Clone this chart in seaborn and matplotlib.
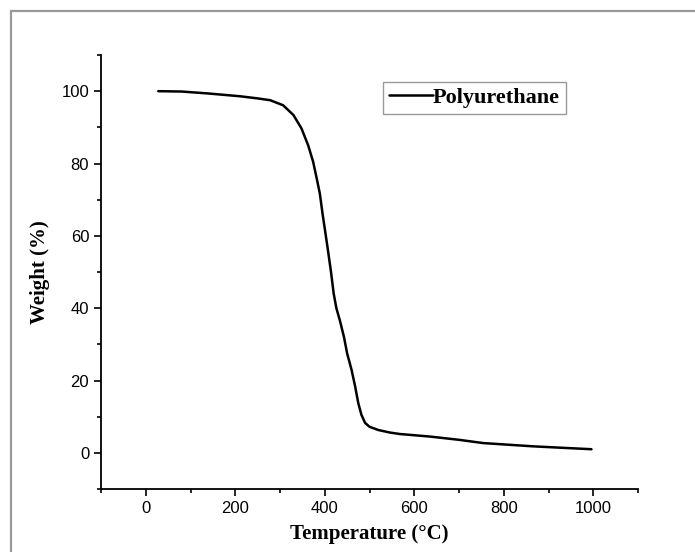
import pandas as pd
import numpy as np
import matplotlib.pyplot as plt
import seaborn as sns
from matplotlib.patches import Rectangle
from matplotlib.ticker import MultipleLocator


# 1. Data
temperature = [28, 80, 136, 210, 250, 278, 307, 330, 348, 363, 374, 382, 389, 395, 406,
               414, 420, 426, 434, 443, 450, 460, 468, 475, 482, 490, 500, 520,
               546, 568, 635, 700, 754, 865, 930, 996]
weight = [100, 99.9, 99.4, 98.6, 98.0, 97.5, 96.1, 93.4, 89.7, 85.0, 80.5, 75.9, 71.7, 66.2, 57,
          50, 44, 40, 36.5, 32, 27.5, 22.9, 18.3, 13.7, 10.5, 8.3, 7.2, 6.3,
          5.6, 5.2, 4.5, 3.6, 2.7, 1.8, 1.4, 1.0]
series_name = 'Polyurethane'

tga = pd.DataFrame({'Temperature': temperature, 'Weight': weight, 'Sample': series_name})


# 2. Plot
sns.set_theme(style="ticks")
plt.rcParams['font.family'] = ['Liberation Sans', 'DejaVu Sans']

fig = plt.figure(figsize=(6.95, 5.52), dpi=100)
ax = fig.add_axes([101/695, 1 - 489/552, 537/695, 434/552])

sns.lineplot(data=tga, x='Temperature', y='Weight', hue='Sample',
             palette=['black'], linewidth=1.8, ax=ax)

ax.set_xlim(-100, 1100)
ax.set_ylim(-10, 110)
ax.xaxis.set_major_locator(MultipleLocator(200))
ax.xaxis.set_minor_locator(MultipleLocator(100))
ax.yaxis.set_major_locator(MultipleLocator(20))
ax.yaxis.set_minor_locator(MultipleLocator(10))
ax.tick_params(which='major', direction='out', length=5, width=1.2, labelsize=12,
               color='black', labelcolor='black')
ax.tick_params(which='minor', direction='out', length=3, width=1.2, color='black')

for s in ['top', 'right']:
    ax.spines[s].set_visible(False)
for s in ['left', 'bottom']:
    ax.spines[s].set_linewidth(1.3)
    ax.spines[s].set_color('black')

label_font = dict(family='Liberation Serif', weight='bold', size=15, color='black')
ax.set_xlabel('Temperature (°C)', fontdict=label_font, labelpad=6)
ax.set_ylabel('Weight (%)', fontdict=label_font, labelpad=8)

leg = ax.legend(loc='upper left', bbox_to_anchor=(282/537, 1 - 27/434),
                prop=dict(family='Liberation Serif', weight='bold', size=16),
                frameon=True, fancybox=False, handlelength=2.0, handletextpad=0.0,
                borderpad=0.25, borderaxespad=0)
leg.get_frame().set_edgecolor('#808080')
leg.get_frame().set_linewidth(1.0)
for t in leg.get_texts():
    t.set_color('black')

# grey frame around the figure (cut off on the right and bottom)
top = 1 - 11/552
fig.add_artist(Rectangle((11/695, -0.5), 1.5, top + 0.5,
                         transform=fig.transFigure, fill=False,
                         edgecolor='#9a9a9a', linewidth=1.6))

plt.savefig("out.png", dpi=100)
